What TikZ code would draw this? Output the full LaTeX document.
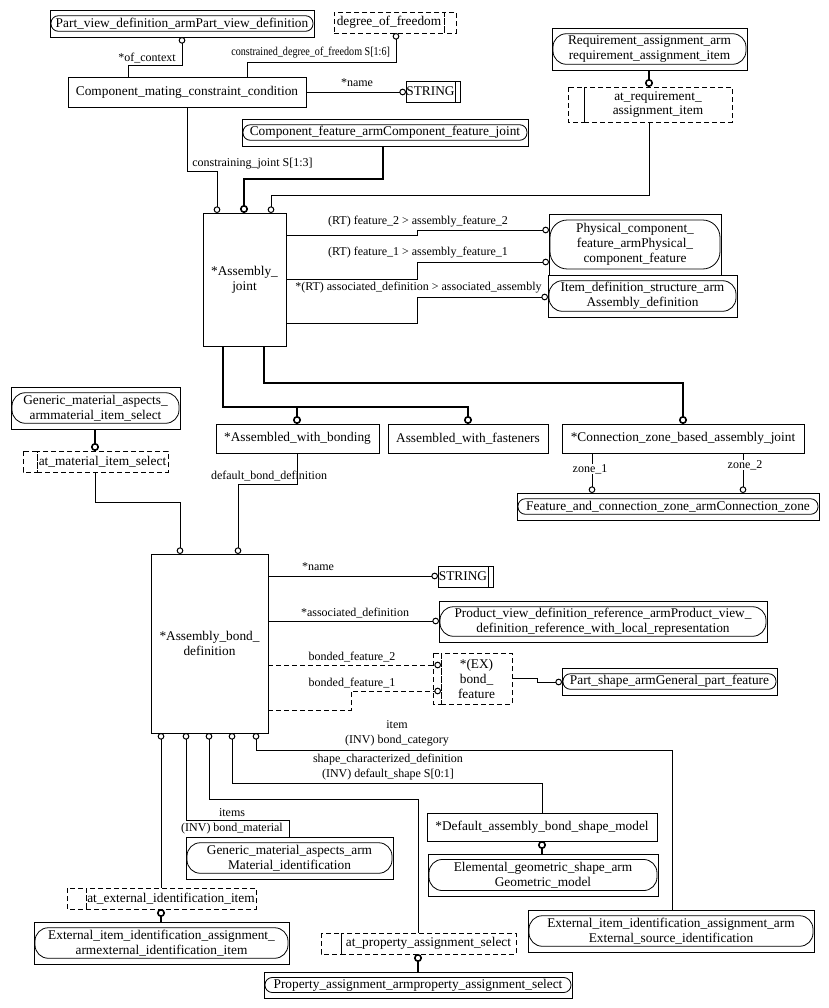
\documentclass[tikz,border=0pt]{standalone}
\usepackage{fontspec}
\setmainfont{Liberation Serif}
\usetikzlibrary{arrows.meta}
\newcommand\bxf{\fontsize{10}{11.2}\selectfont}
\newcommand\lbf{\fontsize{9}{11.2}\selectfont}
\newcommand\rnd[3]{\draw[line width=0.6pt, rounded corners=#3] ([shift={(0.75pt,#2)}]#1.south west) rectangle ([shift={(-0.75pt,-#2)}]#1.north east);}
\tikzset{
  R/.style n args={4}{at={({(#1+#3)/2},{(#2+#4)/2})}, minimum width={(#3-#1)*0.75pt}, minimum height={(#4-#2)*0.75pt}},
  ent/.style={draw, line width=0.75pt, inner sep=0pt, outer sep=0pt, font=\bxf, align=center},
  ref/.style={ent},
  dsh/.style={line width=0.75pt, dash pattern=on 3.75pt off 2.25pt},
  bx/.style={line width=0.75pt},
  sel/.style={ent, dsh},
  lbl/.style={inner sep=0pt, font=\lbf, align=center},
  rel/.style={line width=0.75pt, -{Circle[open, length=5pt, width=5pt]}},
  drel/.style={rel, dsh},
  sub/.style={line width=1.7pt, -{Circle[open, length=6pt, width=6pt, line width=1.2pt]}},
}
\begin{document}
\begin{tikzpicture}[x=0.75pt, y=-0.75pt]
\fill[white] (0,0) rectangle (829,1008);
\useasboundingbox (0,0) rectangle (829,1008);

% ---------- nodes ----------
\node[ref, R={50}{10}{314}{37}] (pvd) {Part\_view\_definition\_armPart\_view\_definition};
\rnd{pvd}{4.3pt}{5.5pt}
\node[sel, R={334}{12}{444}{33}] (dof) {degree\_of\_freedom};
\draw[dsh] (444,12) rectangle (456,33);
\node[ent, R={68}{77}{306}{107}] (cmcc) {Component\_mating\_constraint\_condition};
\node[ent, R={406}{81}{455}{102}] (str1) {STRING};
\draw[bx] (455,81) rectangle (460,102);
\node[ref, R={242}{119}{528}{146}] (cfj) {Component\_feature\_armComponent\_feature\_joint};
\rnd{cfj}{4.3pt}{5.5pt}
\node[ref, R={552}{28}{747}{70}] (req) {Requirement\_assignment\_arm\\requirement\_assignment\_item};
\rnd{req}{4.3pt}{10pt}
\node[sel, R={584}{87}{732}{122}] (atreq) {at\_requirement\_\\assignment\_item};
\draw[dsh] (568,87) rectangle (584,122);
\node[ent, R={203}{213}{286}{346}] (aj) {*Assembly\_\\joint};
\node[ref, R={549}{214}{721}{275}] (pcf) {Physical\_component\_\\feature\_armPhysical\_\\component\_feature};
\rnd{pcf}{4.5pt}{13pt}
\node[ref, R={548}{275}{737}{317}] (ids) {Item\_definition\_structure\_arm\\Assembly\_definition};
\rnd{ids}{4.3pt}{10pt}
\node[ent, R={216}{424}{379}{453}] (awb) {*Assembled\_with\_bonding};
\node[ent, R={388}{424}{548}{453}] (awf) {Assembled\_with\_fasteners};
\node[ent, R={562}{424}{804}{453}] (czb) {*Connection\_zone\_based\_assembly\_joint};
\node[ref, R={517}{493}{819}{520}] (fcz) {Feature\_and\_connection\_zone\_armConnection\_zone};
\rnd{fcz}{4.3pt}{5.5pt}
\node[ref, R={11}{387}{180}{429}] (gma) {Generic\_material\_aspects\_\\armmaterial\_item\_select};
\rnd{gma}{4.3pt}{10pt}
\node[sel, R={37}{451}{168}{472}] (atmat) {at\_material\_item\_select};
\draw[dsh] (23,451) rectangle (37,472);
\node[ent, R={151}{554}{268}{733}] (abd) {*Assembly\_bond\_\\definition};
\node[ent, R={438}{566}{488}{587}] (str2) {STRING};
\draw[bx] (488,566) rectangle (493,587);
\node[ref, R={439}{601}{767}{642}] (pvdr) {Product\_view\_definition\_reference\_armProduct\_view\_\\definition\_reference\_with\_local\_representation};
\rnd{pvdr}{4.3pt}{10pt}
\node[sel, R={441}{653}{512}{704}] (bf) {*(EX)\\bond\_\\feature};
\draw[dsh] (433,653) rectangle (441,704);
\node[ref, R={562}{668}{777}{695}] (psa) {Part\_shape\_armGeneral\_part\_feature};
\rnd{psa}{4.3pt}{5.5pt}
\node[ref, R={186}{837}{393}{879}] (gmi) {Generic\_material\_aspects\_arm\\Material\_identification};
\rnd{gmi}{4.3pt}{10pt}
\node[sel, R={86}{888}{256}{909}] (atext) {at\_external\_identification\_item};
\draw[dsh] (67,888) rectangle (86,909);
\node[ref, R={34}{922}{289}{964}] (eii) {External\_item\_identification\_assignment\_\\armexternal\_identification\_item};
\rnd{eii}{4.3pt}{10pt}
\node[sel, R={341}{933}{516}{954}] (atprop) {at\_property\_assignment\_select};
\draw[dsh] (321,933) rectangle (341,954);
\node[ref, R={264}{972}{572}{998}] (pas) {Property\_assignment\_armproperty\_assignment\_select};
\rnd{pas}{4.1pt}{5.5pt}
\node[ent, R={427}{813}{657}{841}] (dab) {*Default\_assembly\_bond\_shape\_model};
\node[ref, R={428}{854}{658}{896}] (egs) {Elemental\_geometric\_shape\_arm\\Geometric\_model};
\rnd{egs}{4.1pt}{10pt}
\node[ref, R={528}{910}{814}{952}] (esi) {External\_item\_identification\_assignment\_arm\\External\_source\_identification};
\rnd{esi}{4.3pt}{10pt}

% ---------- connectors ----------
\draw[rel] (128,0 |- cmcc.north) |- (182,65) -- (182,0 |- pvd.south);
\node[lbl] (l1) at (147,58) {*of\_context};
\draw[rel] (247,0 |- cmcc.north) |- (396,62) -- (396,0 |- dof.south);
\node[lbl, anchor=west] (l2) at (231,53) {\scalebox{0.843}[1]{constrained\_degree\_of\_freedom S[1:6]}};
\draw[rel] (cmcc.east |- 0,92) -- (str1.west |- 0,92);
\node[lbl] (l3) at (357,83) {*name};
\draw[rel] (187,0 |- cmcc.south) |- (217,171) -- (217,0 |- aj.north);
\node[lbl, anchor=west] (l4) at (192,164) {constraining\_joint S[1:3]};
\draw[sub] (383,0 |- cfj.south) |- (244,179) -- (244,0 |- aj.north);
\draw[rel] (649,0 |- atreq.south) |- (271,195) -- (271,0 |- aj.north);
\draw[sub] (649,0 |- req.south) -- (649,0 |- atreq.north);

\draw[rel] (aj.east |- 0,235) -| (417,230) -- (pcf.west |- 0,230);
\node[lbl] (l5) at (418,222) {(RT) feature\_2 > assembly\_feature\_2};
\draw[rel] (aj.east |- 0,279) -| (417,262) -- (pcf.west |- 0,262);
\node[lbl] (l6) at (418,253) {(RT) feature\_1 > assembly\_feature\_1};
\draw[rel] (aj.east |- 0,323) -| (417,297) -- (ids.west |- 0,297);
\node[lbl, anchor=west] (l7) at (295,288) {*(RT) associated\_definition > associated\_assembly};

\coordinate (j1) at (297,407);
\draw[sub] (223,0 |- aj.south) |- (j1) -- (297,0 |- awb.north);
\draw[sub] (j1) -| (468,0 |- awf.north);
\draw[sub] (264,0 |- aj.south) |- (683,383) -- (683,0 |- czb.north);

\draw[rel] (592,0 |- czb.south) -- (592,0 |- fcz.north);
\node[lbl, fill=white, inner sep=0.5pt] (l8) at (590,469) {zone\_1};
\draw[rel] (743,0 |- czb.south) -- (743,0 |- fcz.north);
\node[lbl, fill=white, inner sep=0.5pt] (l9) at (745,465) {zone\_2};

\draw[rel] (297,0 |- awb.south) |- (238,484) -- (238,0 |- abd.north);
\node[lbl] (l10) at (269,476) {default\_bond\_definition};
\draw[sub] (95,0 |- gma.south) -- (95,0 |- atmat.north);
\draw[rel] (95,0 |- atmat.south) |- (180,502) -- (180,0 |- abd.north);

\draw[rel] (abd.east |- 0,576) -- (str2.west |- 0,576);
\node[lbl] (l11) at (318,567) {*name};
\draw[rel] (abd.east |- 0,621) -- (pvdr.west |- 0,621);
\node[lbl] (l12) at (355,613) {*associated\_definition};
\draw[drel] (abd.east |- 0,665) -- (bf.west |- 0,665);
\node[lbl] (l13) at (352,657) {bonded\_feature\_2};
\draw[drel] (abd.east |- 0,710) -| (351,691) -- (bf.west |- 0,691);
\node[lbl] (l14) at (352,683) {bonded\_feature\_1};
\draw[rel] (bf.east |- 0,678) -| (537,682) -- (psa.west |- 0,682);

\draw[rel] (672,0 |- esi.north) |- (256,750) -- (256,0 |- abd.south);
\node[lbl] (l15) at (397,733.5) {item\\(INV) bond\_category};
\draw[rel] (542,0 |- dab.north) |- (232,783) -- (232,0 |- abd.south);
\node[lbl] (l16) at (388,767) {shape\_characterized\_definition\\(INV) default\_shape S[0:1]};
\draw[rel] (418,0 |- atprop.north) |- (209,799) -- (209,0 |- abd.south);
\draw[rel] (289,0 |- gmi.north) |- (186,820) -- (186,0 |- abd.south);
\node[lbl] (l17) at (232,821.5) {items\\(INV) bond\_material};
\draw[rel] (161,0 |- atext.north) -- (161,0 |- abd.south);
\draw[sub] (161,0 |- eii.north) -- (161,0 |- atext.south);
\draw[sub] (418,0 |- pas.north) -- (418,0 |- atprop.south);
\draw[sub] (542,0 |- egs.north) -- (542,0 |- dab.south);
\end{tikzpicture}
\end{document}
